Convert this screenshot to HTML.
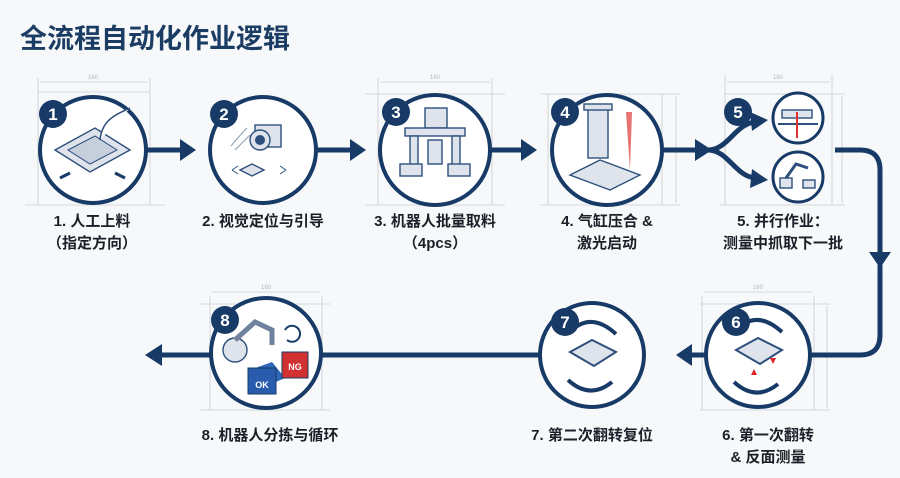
<!DOCTYPE html>
<html><head><meta charset="utf-8"><style>
html,body{margin:0;padding:0;background:#f7f8fa;}
svg{display:block}
text{font-family:"Liberation Sans","Noto Sans CJK SC",sans-serif;}
.lbl{font-size:15px;font-weight:bold;fill:#1b1f27;text-anchor:middle}
.dim{stroke:#c7ccd4;stroke-width:0.8;fill:none}
.dt{font-size:6px;fill:#b0b6c0;text-anchor:middle}
.c{fill:#fff;stroke:#173a66;stroke-width:4}
.ln{stroke:#173a66;stroke-width:5;fill:none}
.ah{fill:#173a66}
.bd{fill:#173a66}
.bn{fill:#fff;font-size:17px;font-weight:bold;text-anchor:middle}
.ic{fill:#dfe4ec;stroke:#2d4f7c;stroke-width:1.4}
</style></head><body>
<svg width="900" height="478" viewBox="0 0 900 478">
<text x="20" y="48" style="font-size:27px;font-weight:bold;fill:#1c3d63">全流程自动化作业逻辑</text>

<!-- dimension frames -->
<g>
<path class="dim" d="M38 92H150M38 92V205M150 78V205M38 78V92M25 205H165M40 82H148"/>
<text class="dt" x="93" y="79">160</text>
<path class="dim" d="M378 78V205M492 78V205M365 94H505M380 82H490M365 205H505"/>
<text class="dt" x="435" y="79">160</text>
<path class="dim" d="M548 94V205M662 94V205M540 94H680M540 205H680M676 96V203"/>
<path class="dim" d="M725 75V205M832 75V205M725 94H845M727 82H830M845 205H720M842 96V203"/>
<text class="dt" x="778" y="79">160</text>
<path class="dim" d="M210 296V410M322 296V410M200 304H330M212 292H320M200 410H330"/>
<text class="dt" x="266" y="289">160</text>
<path class="dim" d="M702 296V410M814 296V410M700 304H830M704 292H812M700 410H830M827 306V408"/>
<text class="dt" x="758" y="289">160</text>
</g>

<!-- connectors row1 -->
<path class="ln" d="M146 150H182"/><polygon class="ah" points="180,139 196,150 180,161"/>
<path class="ln" d="M316 150H352"/><polygon class="ah" points="350,139 366,150 350,161"/>
<path class="ln" d="M487 150H523"/><polygon class="ah" points="521,139 537,150 521,161"/>
<path class="ln" d="M660 150H700"/><polygon class="ah" points="695,139 712,150 695,161"/>
<path class="ln" d="M708 150C728 150 735 124 755 122"/><polygon class="ah" points="750,112 768,120 752,131"/>
<path class="ln" d="M708 150C728 150 735 176 755 178"/><polygon class="ah" points="752,169 768,180 750,188"/>
<path class="ln" d="M835 150H860Q880 150 880 170V255"/><polygon class="ah" points="869,252 880,268 891,252"/>
<path class="ln" d="M880 265V335Q880 355 860 355H810"/>
<!-- row2 -->
<path class="ln" d="M706 355H690"/><polygon class="ah" points="692,344 676,355 692,366"/>
<path class="ln" d="M540 355H318"/>
<path class="ln" d="M212 355H160"/><polygon class="ah" points="162,344 145,355 162,366"/>

<!-- circles -->
<circle class="c" cx="93" cy="150" r="53"/>
<circle class="c" cx="263" cy="150" r="53"/>
<circle class="c" cx="435" cy="150" r="55"/>
<circle class="c" cx="607" cy="150" r="55"/>
<circle class="c" cx="798" cy="118" r="25" style="stroke-width:3"/>
<circle class="c" cx="798" cy="177" r="25" style="stroke-width:3"/>
<circle class="c" cx="758" cy="355" r="52"/>
<circle class="c" cx="592" cy="355" r="52"/>
<circle class="c" cx="266" cy="353" r="55"/>

<!-- icons -->
<g>
<polygon class="ic" points="55,150 95,128 130,150 90,172"/>
<polygon points="68,150 95,136 117,150 90,164" fill="#c6cfdc" stroke="#2d4f7c"/>
<path d="M100 140C102 120 115 115 130 108" stroke="#2d4f7c" fill="#fff" stroke-width="1.5"/>
<path d="M60 178l10-5M125 178l-10-5" stroke="#173a66" stroke-width="3"/>
<rect x="255" y="125" width="26" height="22" class="ic"/><circle cx="260" cy="140" r="10" class="ic"/><circle cx="260" cy="140" r="5" fill="#2d4f7c"/>
<path d="M235 150q10-10 15-15M231 146q10-12 16-18" stroke="#8a9bb0" fill="none"/>
<polygon class="ic" points="240,170 252,164 264,170 252,176"/>
<path d="M232 170l6-4M232 170l6 4M286 170l-6-4M286 170l-6 4" stroke="#2d4f7c" fill="none"/>
<rect x="425" y="108" width="22" height="20" class="ic"/><rect x="405" y="128" width="60" height="8" class="ic"/>
<rect x="410" y="136" width="8" height="30" class="ic"/><rect x="452" y="136" width="8" height="30" class="ic"/>
<rect x="400" y="164" width="22" height="12" class="ic"/><rect x="448" y="164" width="22" height="12" class="ic"/><rect x="428" y="140" width="14" height="24" class="ic"/>
<rect x="588" y="108" width="20" height="50" class="ic"/><rect x="584" y="104" width="28" height="6" class="ic"/>
<polygon class="ic" points="570,175 600,160 640,175 610,190"/>
<polygon points="626,112 632,112 630,170" fill="#e04444" opacity="0.75"/>
<rect x="782" y="110" width="30" height="8" class="ic"/><path d="M778 124H818" stroke="#2d4f7c" stroke-width="2"/><path d="M797 112V138" stroke="#e03030" stroke-width="2"/>
<rect x="780" y="178" width="12" height="10" class="ic"/><path d="M786 178L796 164L808 168" stroke="#2d4f7c" stroke-width="3" fill="none"/><rect x="803" y="180" width="12" height="8" class="ic"/>
<polygon class="ic" points="736,350 758,338 782,350 760,364" style="stroke-width:2"/>
<path d="M738 328q20-18 44 4M778 384q-22 18-44-2" stroke="#173a66" stroke-width="4" fill="none"/>
<polygon points="770,358 776,358 773,364" fill="#e02424"/><polygon points="751,375 757,375 754,369" fill="#e02424"/>
<polygon class="ic" points="570,352 592,340 616,352 594,366" style="stroke-width:2"/>
<path d="M572 330q20-18 44 4M612 382q-22 18-44-2" stroke="#173a66" stroke-width="4" fill="none"/>
<circle cx="235" cy="350" r="12" class="ic"/><path d="M235 340L255 322L272 330V345" stroke="#6f819c" stroke-width="5" fill="none"/>
<polygon points="250,370 272,362 285,378 262,388" fill="#2f66b8"/><rect x="248" y="368" width="28" height="26" fill="#2a5cad" stroke="#173a66"/>
<text x="262" y="388" style="font-size:9px;fill:#fff;font-weight:bold;text-anchor:middle">OK</text>
<rect x="282" y="352" width="26" height="26" fill="#d23131" stroke="#173a66"/>
<text x="295" y="370" style="font-size:9px;fill:#fff;font-weight:bold;text-anchor:middle">NG</text>
<path d="M285 330a8 8 0 1 1 2 10" stroke="#173a66" stroke-width="2" fill="none"/>
</g>

<!-- badges -->
<circle class="bd" cx="53" cy="114" r="14"/><text class="bn" x="53" y="120">1</text>
<circle class="bd" cx="224" cy="114" r="14"/><text class="bn" x="224" y="120">2</text>
<circle class="bd" cx="396" cy="112" r="14"/><text class="bn" x="396" y="118">3</text>
<circle class="bd" cx="565" cy="112" r="14"/><text class="bn" x="565" y="118">4</text>
<circle class="bd" cx="738" cy="112" r="14"/><text class="bn" x="738" y="118">5</text>
<circle class="bd" cx="736" cy="322" r="14"/><text class="bn" x="736" y="328">6</text>
<circle class="bd" cx="565" cy="322" r="14"/><text class="bn" x="565" y="328">7</text>
<circle class="bd" cx="225" cy="320" r="14"/><text class="bn" x="225" y="326">8</text>

<!-- labels -->
<text class="lbl" x="92" y="226">1. 人工上料</text>
<text class="lbl" x="92" y="248">（指定方向）</text>
<text class="lbl" x="263" y="226">2. 视觉定位与引导</text>
<text class="lbl" x="435" y="226">3. 机器人批量取料</text>
<text class="lbl" x="435" y="248">（4pcs）</text>
<text class="lbl" x="607" y="226">4. 气缸压合 &amp;</text>
<text class="lbl" x="607" y="248">激光启动</text>
<text class="lbl" x="783" y="226">5. 并行作业：</text>
<text class="lbl" x="783" y="248">测量中抓取下一批</text>
<text class="lbl" x="270" y="440">8. 机器人分拣与循环</text>
<text class="lbl" x="592" y="440">7. 第二次翻转复位</text>
<text class="lbl" x="768" y="440">6. 第一次翻转</text>
<text class="lbl" x="768" y="462">&amp; 反面测量</text>
</svg>
</body></html>
